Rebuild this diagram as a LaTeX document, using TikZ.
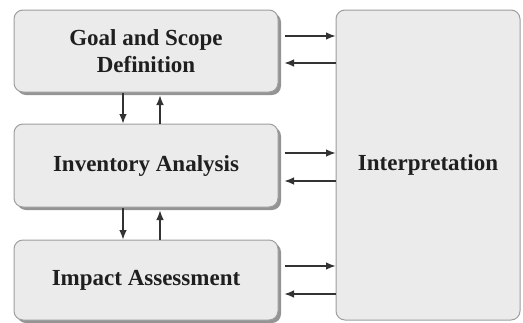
\documentclass[tikz,border=0pt]{standalone}
\usepackage{fontspec}
\setmainfont{Liberation Serif}
\usetikzlibrary{arrows.meta}
\usetikzlibrary{shadows}
\tikzset{
    stage/.style={
        draw=black!38, fill=black!8, line width=1pt, rounded corners=9pt,
        minimum width=264pt, minimum height=#1, inner sep=0pt,
        align=center, font=\rmfamily\bfseries\fontsize{23}{27}\selectfont,
        text=black!88,
        drop shadow={shadow xshift=3pt, shadow yshift=-3pt, fill=black!42, opacity=1}
    },
    flow/.style={->, >={Latex[length=9.5pt,width=7.5pt]}, black!80, line width=1.1pt}
}

\begin{document}
\begin{tikzpicture}[x=1pt, y=-1pt]
    \useasboundingbox (0,0) rectangle (523,322);

    \node[stage=82pt] (GOAL) at (146, 51) {Goal and Scope\\Definition};
    \node[stage=83pt] (INV) at (146, 165.5) {Inventory Analysis};
    \node[stage=80pt] (IMP) at (146, 280) {Impact Assessment};

    \node[draw=black!38, fill=black!8, line width=1pt, rounded corners=9pt,
          minimum width=184pt, minimum height=310pt, inner sep=0pt,
          font=\rmfamily\bfseries\fontsize{23}{27}\selectfont, text=black!88]
          (INTERP) at (428, 165) {Interpretation};

    % arrows to and from interpretation
    \coordinate (G1) at ([xshift=6pt, yshift=15pt]GOAL.east);
    \coordinate (G2) at ([xshift=6pt, yshift=-12pt]GOAL.east);
    \coordinate (I1) at ([xshift=6pt, yshift=12.5pt]INV.east);
    \coordinate (I2) at ([xshift=6pt, yshift=-15.5pt]INV.east);
    \coordinate (M1) at ([xshift=6pt, yshift=14pt]IMP.east);
    \coordinate (M2) at ([xshift=6pt, yshift=-14pt]IMP.east);

    \draw[flow] (G1) -- (G1 -| INTERP.west);
    \draw[flow] (G2 -| INTERP.west) -- (G2);
    \draw[flow] (I1) -- (I1 -| INTERP.west);
    \draw[flow] (I2 -| INTERP.west) -- (I2);
    \draw[flow] (M1) -- (M1 -| INTERP.west);
    \draw[flow] (M2 -| INTERP.west) -- (M2);

    % arrows between the stages
    \coordinate (D1) at ([xshift=-23pt]GOAL.south);
    \coordinate (U1) at ([xshift=14pt]INV.north);
    \coordinate (D2) at ([xshift=-23pt]INV.south);
    \coordinate (U2) at ([xshift=14pt]IMP.north);

    \draw[flow] (D1) -- (D1 |- INV.north);
    \draw[flow] (U1) -- ([yshift=-3pt]U1 |- GOAL.south);
    \draw[flow] (D2) -- (D2 |- IMP.north);
    \draw[flow] (U2) -- ([yshift=-3pt]U2 |- INV.south);
\end{tikzpicture}
\end{document}
